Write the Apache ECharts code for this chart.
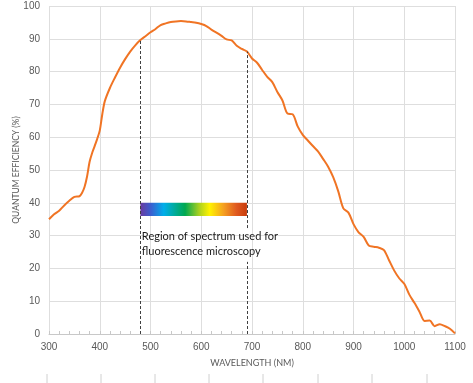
<!DOCTYPE html>
<html><head><meta charset="utf-8">
<script src="https://cdn.jsdelivr.net/npm/echarts@6/dist/echarts.min.js"></script>
<style>html,body{margin:0;padding:0;background:#fff}#c{width:473px;height:383px}</style>
</head><body><div id="c"></div>
<script>
const wavelengths = [300,310,320,330,340,350,360,365,370,375,380,385,390,395,400,405,410,420,430,440,450,460,470,480,490,500,510,520,530,540,550,560,570,580,590,600,610,620,630,640,650,660,670,680,690,700,710,720,730,740,750,760,770,780,790,800,810,820,830,840,850,860,870,880,890,900,910,920,930,940,950,960,970,980,990,1000,1010,1020,1030,1040,1050,1060,1070,1080,1090,1100];
const efficiency = [35,36.5,37.6,39.2,40.6,41.8,42.0,43.0,44.8,48,52.5,55.2,57.3,59.5,62,67,71,75,78.2,81.2,83.8,86.1,88,89.6,90.8,92,93,94.2,94.7,95.1,95.3,95.4,95.3,95.1,94.9,94.5,93.9,92.8,91.9,90.9,89.8,89.5,87.9,86.9,86.1,84,82.7,80.5,78.4,76.8,73.8,71.2,67.2,67,63.3,60.7,59,57.3,55.7,53.4,51,47.8,43.5,38.3,37,33.5,31,29.6,27,26.6,26.3,25.6,22.5,19.4,17,15.3,12,9.5,6.8,4.0,4.1,2.4,3.0,2.4,1.6,0.2];
const regionStart = 480, regionEnd = 690;
const regionStartTop = 89.6, regionEndTop = 86.1;
const bandLow = 36, bandHigh = 40;
const textGapLow = 22, textGapHigh = 32.3;
const regionLabel = 'Region of spectrum used for\nfluorescence microscopy';
const labelPos = [481, 27.4];
const xTicks = {min: 300, max: 1100, interval: 100};
const yTicks = {min: 0, max: 100, interval: 10};

const chart = echarts.init(document.getElementById('c'), null, {renderer: 'canvas'});
const dash = {color: '#404040', type: [3, 2], width: 1};
const gridCol = '#dedede';
const bottomLines = [];
[47,101,155,209,263,318,372,427].forEach(x => bottomLines.push({
  type: 'line', shape: {x1: x, y1: 374, x2: x, y2: 383}, style: {stroke: '#d0d0d0', lineWidth: 1}
}));
chart.setOption({
  animation: false,
  backgroundColor: '#fff',
  grid: {left: 49, right: 18, top: 6, bottom: 49, containLabel: false, outerBoundsMode: 'none'},
  xAxis: {
    type: 'value', min: xTicks.min, max: xTicks.max, interval: xTicks.interval,
    name: 'WAVELENGTH (NM)', nameLocation: 'middle', nameGap: 25, nameMoveOverlap: false,
    nameTextStyle: {color: '#595959', fontSize: 9, fontFamily: 'Lato'},
    axisLine: {show: true, lineStyle: {color: '#c8c8c8'}},
    axisTick: {show: true, inside: true, length: 3, lineStyle: {color: '#c8c8c8'}},
    minorTick: {show: true, splitNumber: 5, length: 3, lineStyle: {color: '#c8c8c8'}},
    axisLabel: {color: '#595959', fontSize: 10, fontFamily: 'Liberation Sans', margin: 8, formatter: v => String(v)},
    splitLine: {show: true, lineStyle: {color: gridCol}}
  },
  yAxis: {
    type: 'value', min: yTicks.min, max: yTicks.max, interval: yTicks.interval,
    name: 'QUANTUM EFFICIENCY (%)', nameLocation: 'middle', nameGap: 28, nameRotate: 90, nameMoveOverlap: false,
    nameTextStyle: {color: '#595959', fontSize: 8.5, fontFamily: 'Lato'},
    axisLine: {show: false}, axisTick: {show: false},
    axisLabel: {color: '#595959', fontSize: 10, fontFamily: 'Liberation Sans', margin: 9},
    splitLine: {show: true, lineStyle: {color: gridCol}}
  },
  graphic: bottomLines,
  series: [{
    type: 'line',
    data: wavelengths.map((w, i) => [w, efficiency[i]]),
    smooth: 0.3, showSymbol: false, symbol: 'none',
    lineStyle: {color: '#F07424', width: 2},
    z: 3,
    markLine: {
      silent: true, symbol: ['none', 'none'], label: {show: false},
      lineStyle: dash,
      data: [
        [{coord: [regionStart, 0]}, {coord: [regionStart, regionStartTop]}],
        [{coord: [regionEnd, 0]}, {coord: [regionEnd, textGapLow]}],
        [{coord: [regionEnd, textGapHigh]}, {coord: [regionEnd, regionEndTop]}]
      ]
    },
    markArea: {
      silent: true,
      itemStyle: {
        color: new echarts.graphic.LinearGradient(0, 0, 1, 0, [
          {offset: 0, color: '#6a3aa0'},
          {offset: 0.1, color: '#3a5fd0'},
          {offset: 0.22, color: '#00aeea'},
          {offset: 0.42, color: '#00a850'},
          {offset: 0.55, color: '#a8d020'},
          {offset: 0.65, color: '#fff200'},
          {offset: 0.78, color: '#f5a020'},
          {offset: 0.9, color: '#e05a20'},
          {offset: 1, color: '#c83c0c'}
        ])
      },
      data: [[{coord: [regionStart, bandLow]}, {coord: [regionEnd, bandHigh]}]]
    },
    markPoint: {
      silent: true, symbol: 'circle', symbolSize: 0,
      label: {
        show: true, position: 'right', distance: 1, formatter: regionLabel,
        color: '#1a1a1a', fontSize: 11, fontFamily: 'Lato', lineHeight: 15, align: 'left'
      },
      data: [{coord: labelPos}]
    }
  }]
});
</script></body></html>
